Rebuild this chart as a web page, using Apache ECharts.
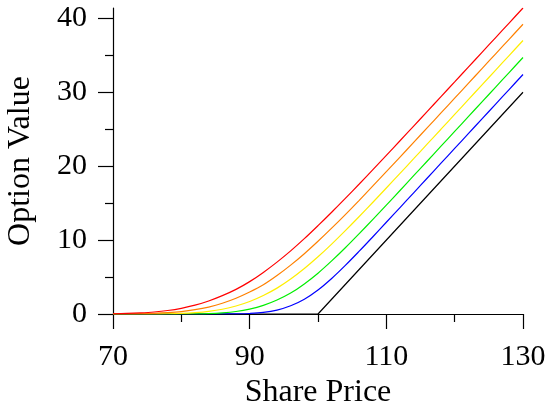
<!DOCTYPE html>
<html>
<head>
<meta charset="utf-8">
<script src="https://cdn.jsdelivr.net/npm/echarts@6/dist/echarts.min.js"></script>
<style>
html,body{margin:0;padding:0;background:#fff;}
#chart{width:551px;height:410px;}
</style>
</head>
<body>
<div id="chart"></div>
<script>
// Share prices (x values)
var sharePrice = [70,72,74,76,78,80,82,84,86,88,90,92,94,96,98,100,102,104,106,108,110,112,114,116,118,120,122,124,126,128,130];
// Option values, shortest to longest time to expiry
var blueVals   = [0,0,0,0,0,0,0,0,0.004,0.02,0.07,0.21,0.53,1.11,2.00,3.25,4.81,6.58,8.47,10.42,12.41,14.40,16.4,18.4,20.4,22.4,24.4,26.4,28.4,30.4,32.4];
var greenVals  = [0,0,0,0,0,0.01,0.02,0.06,0.16,0.34,0.66,1.16,1.89,2.83,4.07,5.52,7.18,8.96,10.84,12.77,14.73,16.71,18.71,20.7,22.7,24.7,26.7,28.7,30.7,32.7,34.7];
var yellowVals = [0,0.001,0.005,0.013,0.035,0.09,0.19,0.36,0.64,1.08,1.69,2.50,3.50,4.73,6.15,7.74,9.46,11.28,13.16,15.09,17.05,19.02,21.01,23.01,25.0,27.0,29.0,31.0,33.0,35.0,37.0];
var orangeVals = [0.006,0.016,0.038,0.087,0.18,0.33,0.58,0.94,1.45,2.13,2.97,3.95,5.20,6.61,8.16,9.84,11.61,13.45,15.35,17.30,19.26,21.23,23.22,25.21,27.2,29.2,31.2,33.2,35.2,37.2,39.2];
var redVals    = [0.035,0.074,0.15,0.27,0.47,0.77,1.19,1.76,2.48,3.33,4.38,5.63,7.02,8.54,10.19,11.95,13.77,15.64,17.55,19.50,21.46,23.44,25.42,27.41,29.41,31.4,33.4,35.4,37.4,39.4,41.4];
// Payoff at expiry (strike 100)
var payoffX = [70,100,130];
var payoffY = [0,0,30];
// Axis ticks
var xMajorTicks = [70,90,110,130];
var xMinorTicks = [80,100,120];
var yMajorTicks = [0,10,20,30,40];
var yMinorTicks = [5,15,25,35];
var xName = 'Share Price';
var yName = 'Option Value';

function pairs(xs, ys){ return xs.map(function(x,i){ return [x, ys[i]]; }); }

var FONT = '"Liberation Serif", "DejaVu Serif", serif';
var gridRect = {left:113, right:28, top:8, bottom:96, outerBoundsMode:'none', containLabel:false};
var lineStyleAxis = {color:'#000', width:1.2};

var curves = [
  {name:'payoff', color:'#000000', data:pairs(payoffX,payoffY), smooth:false},
  {name:'T1', color:'#0000ff', data:pairs(sharePrice,blueVals), smooth:true},
  {name:'T2', color:'#00ee00', data:pairs(sharePrice,greenVals), smooth:true},
  {name:'T3', color:'#ffee00', data:pairs(sharePrice,yellowVals), smooth:true},
  {name:'T4', color:'#ff8000', data:pairs(sharePrice,orangeVals), smooth:true},
  {name:'T5', color:'#ff0000', data:pairs(sharePrice,redVals), smooth:true}
];

var chart = echarts.init(document.getElementById('chart'), null, {renderer:'canvas'});
chart.setOption({
  animation:false,
  backgroundColor:'#fff',
  grid:[
    Object.assign({}, gridRect),
    Object.assign({}, gridRect)
  ],
  xAxis:[
    {type:'value', gridIndex:0, min:70, max:130, interval:10,
     axisLine:{show:true, onZero:false, lineStyle:lineStyleAxis},
     axisTick:{show:true, length:8, customValues:xMinorTicks, lineStyle:lineStyleAxis},
     axisLabel:{show:false}, splitLine:{show:false}},
    {type:'value', gridIndex:1, min:70, max:130, interval:10,
     axisLine:{show:false, onZero:false},
     axisTick:{show:true, length:15, customValues:xMajorTicks, lineStyle:lineStyleAxis},
     axisLabel:{show:true, customValues:xMajorTicks, margin:28, color:'#000', fontFamily:FONT, fontSize:30},
     splitLine:{show:false},
     name:xName, nameLocation:'middle', nameGap:62,
     nameTextStyle:{color:'#000', fontFamily:FONT, fontSize:32}}
  ],
  yAxis:[
    {type:'value', gridIndex:0, min:0, max:41.4,
     axisLine:{show:true, onZero:false, lineStyle:lineStyleAxis},
     axisTick:{show:true, length:8, customValues:yMinorTicks, lineStyle:lineStyleAxis},
     axisLabel:{show:false}, splitLine:{show:false}},
    {type:'value', gridIndex:1, min:0, max:41.4,
     axisLine:{show:false, onZero:false},
     axisTick:{show:true, length:15, customValues:yMajorTicks, lineStyle:lineStyleAxis},
     axisLabel:{show:true, customValues:yMajorTicks, margin:26, padding:[7,0,0,0], color:'#000', fontFamily:FONT, fontSize:30},
     splitLine:{show:false},
     name:yName, nameLocation:'middle', nameGap:76,
     nameTextStyle:{color:'#000', fontFamily:FONT, fontSize:32}}
  ],
  series: curves.map(function(c){
    return {type:'line', xAxisIndex:0, yAxisIndex:0, name:c.name, data:c.data,
      showSymbol:false, smooth:c.smooth ? 0.35 : false,
      lineStyle:{color:c.color, width:1.2}, itemStyle:{color:c.color}, silent:true};
  })
});
</script>
</body>
</html>
